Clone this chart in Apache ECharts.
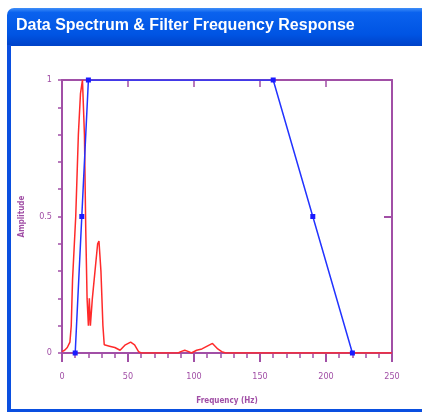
<!DOCTYPE html>
<html>
<head>
<meta charset="utf-8">
<script src="https://cdn.jsdelivr.net/npm/echarts@6/dist/echarts.min.js"></script>
<style>
  html, body { margin: 0; padding: 0; background: #fff; }
  #chart { width: 422px; height: 412px; }
</style>
</head>
<body>
<div id="chart"></div>
<script>
// spectrum of the data (red)
var specFreq = [0, 2, 4, 6, 7, 8, 10.4, 12.4, 14, 15.5, 17, 18, 19, 20, 20.7, 21.5, 23, 25, 27, 28, 29.5, 31, 32, 36, 40, 44, 48, 52, 55, 58, 60, 88, 90, 93, 96, 98, 102, 106, 110, 114, 118, 121, 124, 250];
var specAmp  = [0.005, 0.01, 0.02, 0.04, 0.1, 0.27, 0.5, 0.8, 0.95, 1.0, 0.8, 0.45, 0.2, 0.1, 0.2, 0.1, 0.2, 0.3, 0.4, 0.41, 0.3, 0.1, 0.03, 0.025, 0.02, 0.01, 0.03, 0.04, 0.03, 0.005, 0, 0, 0.005, 0.01, 0.005, 0, 0.01, 0.015, 0.025, 0.035, 0.015, 0.005, 0, 0];

// filter frequency response (blue)
var filtFreq = [10, 15, 20, 160, 190, 220];
var filtAmp  = [0, 0.5, 1, 1, 0.5, 0];

var xTicks = [0, 50, 100, 150, 200, 250];
var yTicks = [0, 0.5, 1];

var purple = '#a14fa6';

function pairs(xs, ys) {
    return xs.map(function (x, i) { return [x, ys[i]]; });
}

var myChart = echarts.init(document.getElementById('chart'));

var option = {
    backgroundColor: '#fff',
    animation: false,
    graphic: [
        // window frame
        { type: 'rect', shape: { x: 7, y: 8, width: 430, height: 38, r: [7, 0, 0, 0] },
          style: { fill: new echarts.graphic.LinearGradient(0, 0, 0, 1, [
              { offset: 0, color: '#3f8ef8' },
              { offset: 0.12, color: '#0a62ee' },
              { offset: 0.7, color: '#0054e3' },
              { offset: 1, color: '#0042c8' }
          ]) }, z: 1 },
        { type: 'rect', shape: { x: 7, y: 45, width: 4, height: 367 }, style: { fill: '#0a4fe0' }, z: 1 },
        { type: 'rect', shape: { x: 7, y: 409, width: 420, height: 3 }, style: { fill: '#0a4fe0' }, z: 1 },
        { type: 'text', left: 16, top: 18, z: 2,
          style: { text: 'Data Spectrum & Filter Frequency Response', fill: '#fff',
                   font: 'bold 16px "Liberation Sans", Arial, sans-serif',
                   textShadowColor: '#0a2a80', textShadowOffsetX: 1, textShadowOffsetY: 1, textShadowBlur: 0 } }
    ],
    grid: { left: 62, right: 30, top: 80, bottom: 59 },
    xAxis: [{
        type: 'value', min: 0, max: 250, interval: 50,
        name: 'Frequency (Hz)', nameLocation: 'middle', nameGap: 44,
        nameTextStyle: { color: purple, fontSize: 8, fontWeight: 'bold', fontFamily: 'DejaVu Sans Condensed, DejaVu Sans' },
        axisLine: { show: true, onZero: false, lineStyle: { color: purple, width: 2 } },
        axisTick: { show: true, length: 9, lineStyle: { color: purple, width: 2 } },
        minorTick: { show: true, splitNumber: 5, length: 5, lineStyle: { color: purple, width: 1.5 } },
        axisLabel: { color: purple, fontSize: 9, margin: 19, fontFamily: 'DejaVu Sans Condensed, DejaVu Sans',
                     formatter: function (v) { return xTicks.indexOf(v) >= 0 ? String(v) : ''; } },
        splitLine: { show: false }
    }, {
        type: 'value', min: 0, max: 250, interval: 50, position: 'top',
        axisLine: { show: true, onZero: false, lineStyle: { color: purple, width: 2 } },
        axisTick: { show: true, inside: true, length: 7, lineStyle: { color: purple, width: 1.5 } },
        axisLabel: { show: false }, splitLine: { show: false }
    }],
    yAxis: [{
        type: 'value', min: 0, max: 1, interval: 0.1,
        name: 'Amplitude', nameLocation: 'middle', nameGap: 36, nameRotate: 90,
        nameTextStyle: { color: purple, fontSize: 8, fontWeight: 'bold', fontFamily: 'DejaVu Sans Condensed, DejaVu Sans' },
        axisLine: { show: true, onZero: false, lineStyle: { color: purple, width: 2 } },
        axisTick: { show: true, length: 4, lineStyle: { color: purple, width: 1.5 } },
        axisLabel: { color: purple, fontSize: 9, margin: 10, fontFamily: 'DejaVu Sans Condensed, DejaVu Sans',
                     formatter: function (v) {
                         var r = Math.round(v * 10) / 10;
                         return yTicks.indexOf(r) >= 0 ? String(r) : '';
                     } },
        splitLine: { show: false }
    }, {
        type: 'value', min: 0, max: 1, interval: 0.5, position: 'right',
        axisLine: { show: true, onZero: false, lineStyle: { color: purple, width: 2 } },
        axisTick: { show: true, inside: true, length: 8, lineStyle: { color: purple, width: 2 } },
        axisLabel: { show: false }, splitLine: { show: false }
    }],
    series: [{
        name: 'Spectrum', type: 'line', data: pairs(specFreq, specAmp),
        showSymbol: false, symbol: 'none', z: 3,
        lineStyle: { color: '#ff2a2a', width: 1.5 }
    }, {
        name: 'Filter', type: 'line', data: pairs(filtFreq, filtAmp),
        symbol: 'rect', symbolSize: 5, z: 4,
        itemStyle: { color: '#1a1aff' },
        lineStyle: { color: '#2233ff', width: 1.5 }
    }]
};

myChart.setOption(option);
</script>
</body>
</html>
